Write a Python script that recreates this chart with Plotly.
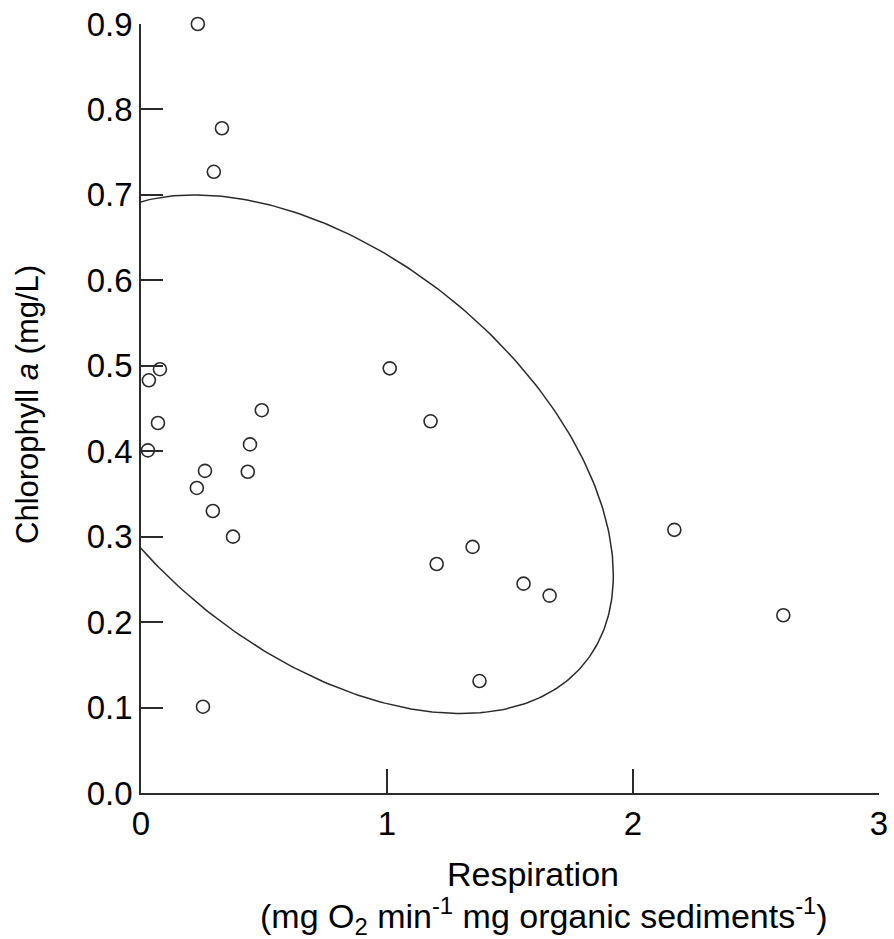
import numpy as np
import plotly.graph_objects as go

# Data
respiration = [0.231, 0.329, 0.296, 0.077, 0.032, 0.069, 0.028, 0.491, 0.443, 0.434,
               0.260, 0.227, 0.292, 0.374, 0.252, 1.011, 1.177, 1.202, 1.348, 1.555,
               1.661, 1.376, 2.168, 2.611]
chlorophyll = [0.900, 0.778, 0.727, 0.496, 0.483, 0.433, 0.401, 0.448, 0.408, 0.376,
               0.377, 0.357, 0.330, 0.300, 0.101, 0.497, 0.435, 0.268, 0.288, 0.245,
               0.231, 0.131, 0.308, 0.208]

# Confidence ellipse (center and shape matrix)
ellipse_center = [0.76, 0.3965]
ellipse_shape = [[1.3456, -0.164], [-0.164, 0.0921]]

x_ticks = [0, 1, 2, 3]
y_ticks = [0.0, 0.1, 0.2, 0.3, 0.4, 0.5, 0.6, 0.7, 0.8, 0.9]

x_title_1 = "Respiration"
x_title_2 = "(mg O<sub>2</sub> min<sup>-1</sup> mg organic sediments<sup>-1</sup>)"
y_title = "Chlorophyll <i>a</i> (mg/L)"

L = np.linalg.cholesky(np.array(ellipse_shape))
t = np.linspace(0, 2 * np.pi, 400)
circ = np.vstack([np.cos(t), np.sin(t)])
ell = L @ circ
ex = ellipse_center[0] + ell[0]
ey = ellipse_center[1] + ell[1]

FONT = "Liberation Sans, Arial, sans-serif"
INK = "#2b2b2b"

fig = go.Figure()
fig.add_trace(go.Scatter(x=ex, y=ey, mode="lines",
                         line=dict(color=INK, width=1.5), hoverinfo="skip",
                         showlegend=False))
fig.add_trace(go.Scatter(x=respiration, y=chlorophyll, mode="markers",
                         marker=dict(symbol="circle-open", size=13,
                                     color=INK, line=dict(color=INK, width=1.6)),
                         cliponaxis=False, showlegend=False))

fig.update_layout(
    width=894, height=939,
    margin=dict(l=141, r=15, t=24, b=146),
    paper_bgcolor="white", plot_bgcolor="white",
    font=dict(family=FONT, color="black", size=31),
    xaxis=dict(range=[0, 3], tickvals=x_ticks, ticktext=[str(v) for v in x_ticks],
               ticks="inside", ticklen=24, tickwidth=1.5, tickcolor=INK,
               showline=True, linecolor=INK, linewidth=1.8,
               showgrid=False, zeroline=False, automargin=False,
               tickfont=dict(size=33, family=FONT)),
    yaxis=dict(range=[0, 0.9], tickvals=y_ticks, tickformat=".1f",
               ticks="inside", ticklen=22, tickwidth=1.5, tickcolor=INK,
               showline=True, linecolor=INK, linewidth=1.8,
               showgrid=False, zeroline=False, automargin=False,
               tickfont=dict(size=33, family=FONT)),
    annotations=[
        dict(text=x_title_1, xref="paper", yref="paper",
             x=(533 - 141) / 738, y=-(874 - 793) / 769,
             xanchor="center", yanchor="middle", showarrow=False,
             font=dict(size=34, family=FONT, color="black")),
        dict(text=x_title_2, xref="paper", yref="paper",
             x=(544 - 141) / 738, y=-(916 - 793) / 769,
             xanchor="center", yanchor="middle", showarrow=False,
             font=dict(size=34, family=FONT, color="black")),
        dict(text=y_title, xref="paper", yref="paper",
             x=(27 - 141) / 738, y=(793 - 405) / 769, textangle=-90,
             xanchor="center", yanchor="middle", showarrow=False,
             font=dict(size=31, family=FONT, color="black")),
    ],
)

fig.write_html("out.html")
